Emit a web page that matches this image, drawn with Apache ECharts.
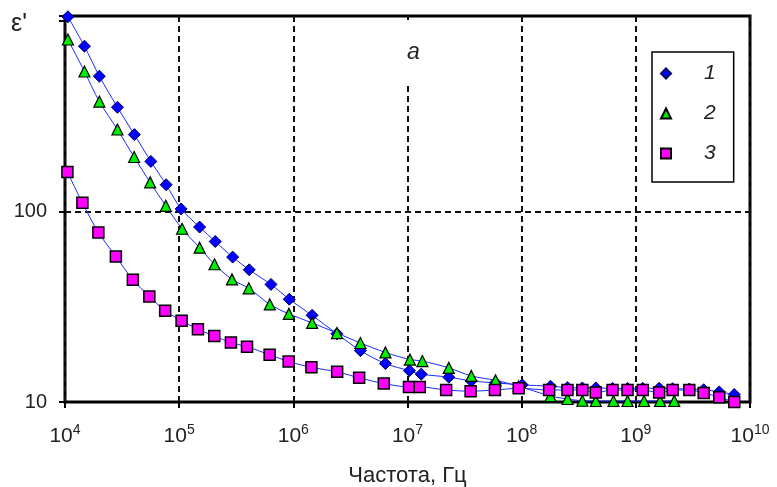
<!DOCTYPE html>
<html>
<head>
<meta charset="utf-8">
<script src="https://cdn.jsdelivr.net/npm/echarts@6/dist/echarts.min.js"></script>
<style>
html,body{margin:0;padding:0;background:#fff;}
#c{width:777px;height:487px;}
</style>
</head>
<body>
<div id="c"></div>
<script>
// ---- data ----
const freq1 = [1.06e4, 1.48e4, 2.0e4, 2.88e4, 4.05e4, 5.65e4, 7.69e4, 1.04e5, 1.51e5, 2.07e5, 2.94e5, 4.11e5, 6.37e5, 9.22e5, 1.46e6, 2.41e6, 3.87e6, 6.41e6, 1.04e7, 1.32e7, 2.30e7, 3.62e7, 5.9e7, 1.01e8, 1.79e8, 2.52e8, 3.4e8, 4.46e8, 6.25e8, 8.46e8, 1.15e9, 1.6e9, 2.1e9, 2.94e9, 3.93e9, 5.38e9, 7.28e9];
const eps1 = [1050, 736, 512, 352, 253, 183, 138, 103, 82.8, 69.5, 57.6, 49.4, 41.4, 34.6, 28.5, 22.8, 18.6, 15.9, 14.6, 14.0, 13.5, 12.9, 12.6, 12.3, 12.1, 11.9, 11.85, 11.85, 11.8, 11.8, 11.8, 11.8, 11.75, 11.7, 11.6, 11.3, 10.95];

const freq2 = [1.06e4, 1.48e4, 2.0e4, 2.88e4, 4.03e4, 5.57e4, 7.64e4, 1.06e5, 1.51e5, 2.04e5, 2.90e5, 4.07e5, 6.22e5, 9.14e5, 1.46e6, 2.41e6, 3.87e6, 6.41e6, 1.05e7, 1.35e7, 2.30e7, 3.62e7, 5.9e7, 9.4e7, 1.79e8, 2.52e8, 3.4e8, 4.46e8, 6.37e8, 8.46e8, 1.18e9, 1.63e9, 2.17e9];
const eps2 = [798, 542, 377, 269, 193, 142, 107, 81.1, 64.5, 52.8, 44.0, 39.5, 32.5, 29.0, 26.0, 23.0, 20.4, 18.2, 16.7, 16.4, 15.1, 13.7, 13.0, 12.1, 10.75, 10.37, 10.15, 10.12, 10.12, 10.12, 10.12, 10.12, 10.12];

const freq3 = [1.05e4, 1.42e4, 1.96e4, 2.79e4, 3.93e4, 5.48e4, 7.54e4, 1.05e5, 1.46e5, 2.03e5, 2.84e5, 3.93e5, 6.2e5, 9.1e5, 1.44e6, 2.42e6, 3.77e6, 6.2e6, 1.03e7, 1.28e7, 2.18e7, 3.57e7, 5.83e7, 9.42e7, 1.74e8, 2.52e8, 3.4e8, 4.46e8, 6.25e8, 8.46e8, 1.15e9, 1.6e9, 2.1e9, 2.94e9, 3.93e9, 5.38e9, 7.28e9];
const eps3 = [161, 111, 77.6, 58.0, 43.8, 35.8, 30.1, 26.7, 24.1, 22.2, 20.5, 19.5, 17.7, 16.3, 15.2, 14.4, 13.4, 12.5, 12.0, 12.0, 11.56, 11.4, 11.56, 11.8, 11.56, 11.56, 11.56, 11.2, 11.56, 11.56, 11.56, 11.2, 11.56, 11.56, 11.15, 10.6, 10.0];

const seriesNames = ['1', '2', '3'];
const yTickLabels = [10, 100];
const xAxisTitle = 'Частота, Гц';
const yAxisTitle = 'ε\'';
const panelLabel = 'a';

const FONT = '"Liberation Sans", Arial, sans-serif';
const pairs = (xs, ys) => xs.map((x, i) => [x, ys[i]]);

const chart = echarts.init(document.getElementById('c'));
const lineStyle = { color: '#1a2bff', width: 1 };

chart.setOption({
  animation: false,
  backgroundColor: '#fff',
  grid: { left: 65, right: 27, top: 16, bottom: 85, show: true, borderColor: '#000', borderWidth: 3, backgroundColor: 'transparent', outerBoundsMode: 'none', containLabel: false },
  xAxis: {
    type: 'log', min: 1e4, max: 1e10, logBase: 10,
    name: xAxisTitle, nameLocation: 'middle', nameGap: 63,
    nameTextStyle: { fontFamily: FONT, fontSize: 22, color: '#222' },
    axisLine: { show: false },
    axisTick: { show: true, length: 6, inside: false, lineStyle: { color: '#000', width: 2 } },
    axisLabel: {
      margin: 21,
      formatter: v => '{b|10}{s|' + Math.round(Math.log10(v)) + '}',
      rich: {
        b: { fontFamily: FONT, fontSize: 21, color: '#222', lineHeight: 24, verticalAlign: 'bottom' },
        s: { fontFamily: FONT, fontSize: 14, color: '#222', lineHeight: 14, verticalAlign: 'top' }
      }
    },
    splitLine: { show: true, lineStyle: { color: '#111', width: 2, type: [6, 4] } }
  },
  yAxis: {
    type: 'log', min: 10, max: 1060, logBase: 10,
    axisLine: { show: false },
    axisTick: { show: true, length: 6, lineStyle: { color: '#000', width: 2 } },
    axisLabel: {
      margin: 18, fontFamily: FONT, fontSize: 20, color: '#222',
      formatter: v => (yTickLabels.indexOf(Math.round(v)) >= 0 && Math.abs(v - Math.round(v)) < 1e-6) ? String(Math.round(v)) : ''
    },
    splitLine: { show: false }
  },
  legend: {
    orient: 'vertical', left: 652, top: 52,
    borderColor: '#000', borderWidth: 1.5, backgroundColor: '#fff',
    padding: [11, 18, 18, 8],
    itemGap: 19, itemWidth: 10, itemHeight: 10,
    textStyle: { fontFamily: FONT, fontSize: 21, fontStyle: 'italic', color: '#222', lineHeight: 20, padding: [0, 0, 0, 28] },
    data: [
      { name: seriesNames[0], icon: 'diamond' },
      { name: seriesNames[1], icon: 'triangle' },
      { name: seriesNames[2], icon: 'rect' }
    ]
  },
  graphic: [
    { type: 'rect', left: 398, top: 20, shape: { width: 30, height: 66 }, style: { fill: '#fff' }, z: 50 },
    { type: 'text', left: 407, top: 41, style: { text: panelLabel, font: 'italic 23px ' + FONT, fill: '#222' }, z: 51 },
    { type: 'text', left: 11, top: 12, style: { text: yAxisTitle, font: '25px ' + FONT, fill: '#222' }, z: 51 }
  ],
  series: [
    {
      name: seriesNames[0], type: 'line', data: pairs(freq1, eps1), smooth: 0.3,
      symbol: 'diamond', symbolSize: 12,
      itemStyle: { color: '#0000ff', borderColor: '#000060', borderWidth: 1 },
      lineStyle: lineStyle, z: 3,
      markLine: {
        silent: true, symbol: 'none', z: 1, animation: false,
        label: { show: false },
        lineStyle: { color: '#111', width: 2, type: [6, 4] },
        emphasis: { disabled: true },
        data: [{ yAxis: 100 }]
      }
    },
    {
      name: seriesNames[1], type: 'line', data: pairs(freq2, eps2), smooth: 0.3,
      symbol: 'triangle', symbolSize: 11,
      itemStyle: { color: '#00ee00', borderColor: '#000', borderWidth: 1.2 },
      lineStyle: lineStyle, z: 4
    },
    {
      name: seriesNames[2], type: 'line', data: pairs(freq3, eps3), smooth: 0.3,
      symbol: 'rect', symbolSize: 11,
      itemStyle: { color: '#ff00ff', borderColor: '#000', borderWidth: 1.5 },
      lineStyle: lineStyle, z: 5
    }
  ]
});
</script>
</body>
</html>
